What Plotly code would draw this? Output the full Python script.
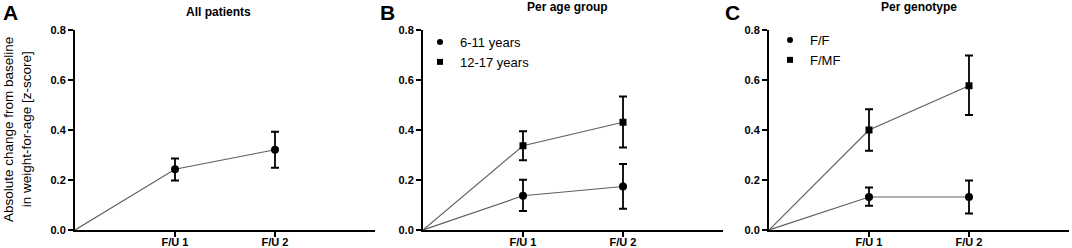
import plotly.graph_objects as go

# ---------------- data ----------------
timepoints = ["F/U 1", "F/U 2"]
baseline = 0.0

all_mean = [0.243, 0.321]
all_upper = [0.286, 0.393]
all_lower = [0.198, 0.249]

age_groups = ["6-11 years", "12-17 years"]
age_6_11_mean = [0.137, 0.174]
age_6_11_upper = [0.201, 0.264]
age_6_11_lower = [0.076, 0.085]
age_12_17_mean = [0.337, 0.431]
age_12_17_upper = [0.395, 0.534]
age_12_17_lower = [0.279, 0.330]

genotypes = ["F/F", "F/MF"]
ff_mean = [0.132, 0.132]
ff_upper = [0.170, 0.198]
ff_lower = [0.097, 0.066]
fmf_mean = [0.400, 0.577]
fmf_upper = [0.483, 0.698]
fmf_lower = [0.317, 0.460]

y_ticks = [0.0, 0.2, 0.4, 0.6, 0.8]
panel_titles = ["All patients", "Per age group", "Per genotype"]
panel_letters = ["A", "B", "C"]

# ---------------- layout helpers ----------------
W, H = 1072, 248
FONT = "Arial, Liberation Sans, sans-serif"


def px(x):
    return x / W


def py(y):
    return (H - y) / H


x_num = [1, 2]
marker_size = {"circle": 8, "square": 7}
fig = go.Figure()

panels = [
    ("x", "y", [(all_mean, all_upper, all_lower, "circle", None)], None),
    ("x2", "y2", [(age_6_11_mean, age_6_11_upper, age_6_11_lower, "circle", age_groups[0]),
                  (age_12_17_mean, age_12_17_upper, age_12_17_lower, "square", age_groups[1])], "legend"),
    ("x3", "y3", [(ff_mean, ff_upper, ff_lower, "circle", genotypes[0]),
                  (fmf_mean, fmf_upper, fmf_lower, "square", genotypes[1])], "legend2"),
]

for xa, ya, series, leg in panels:
    for mean, upper, lower, sym, name in series:
        fig.add_trace(go.Scatter(
            x=[0] + x_num, y=[baseline] + mean, mode="lines",
            line=dict(color="#606060", width=1.2), xaxis=xa, yaxis=ya,
            showlegend=False, hoverinfo="skip", cliponaxis=False))
        fig.add_trace(go.Scatter(
            x=x_num, y=mean, mode="markers",
            marker=dict(symbol=sym, size=marker_size[sym], color="black"),
            error_y=dict(type="data", symmetric=False,
                         array=[u - m for u, m in zip(upper, mean)],
                         arrayminus=[m - l for m, l in zip(mean, lower)],
                         color="black", thickness=1.8, width=4),
            xaxis=xa, yaxis=ya, showlegend=False, cliponaxis=False))
        if name is not None:
            fig.add_trace(go.Scatter(
                x=[None], y=[None], mode="markers", name=name,
                marker=dict(symbol=sym, size=6, color="black"),
                xaxis=xa, yaxis=ya, showlegend=True, legend=leg))

x_domains = [(75, 375), (423, 723), (769, 1069)]
ydom = [py(230), py(30)]

axis_common = dict(showline=True, linecolor="black", linewidth=2, ticks="outside",
                   ticklen=5, tickwidth=1.5, tickcolor="black", showgrid=False,
                   zeroline=False, automargin=False,
                   tickfont=dict(family=FONT, size=11, color="black", weight="bold"))

for i, (x0, x1) in enumerate(x_domains):
    sfx = "" if i == 0 else str(i + 1)
    fig.layout["xaxis" + sfx] = dict(
        domain=[px(x0), px(x1)], range=[0, 3], tickvals=x_num, ticktext=timepoints,
        anchor="y" + sfx, ticklabelstandoff=-4, **axis_common)
    fig.layout["yaxis" + sfx] = dict(
        domain=ydom, range=[0, 0.8], tickvals=y_ticks,
        ticktext=[f"{v:.1f}" for v in y_ticks], anchor="x" + sfx, **axis_common)

annotations = []
title_pos = [(218, 12), (567, 7), (919, 7)]
for t, (cx, cy) in zip(panel_titles, title_pos):
    annotations.append(dict(text=t, x=px(cx), y=py(cy), xref="paper", yref="paper",
                            showarrow=False, xanchor="center", yanchor="middle",
                            font=dict(family=FONT, size=12, color="black", weight="bold")))
letter_x = [10, 387, 732]
for t, cx in zip(panel_letters, letter_x):
    annotations.append(dict(text=t, x=px(cx), y=1.0, xref="paper", yref="paper",
                            showarrow=False, xanchor="center", yanchor="top",
                            borderpad=0,
                            font=dict(family=FONT, size=21, color="black", weight="bold")))
annotations.append(dict(text="Absolute change from baseline<br>in weight-for-age [z-score]",
                        x=px(17), y=py(130), xref="paper", yref="paper", textangle=-90,
                        showarrow=False, xanchor="center", yanchor="middle",
                        font=dict(family=FONT, size=13.5, color="black")))

legend_style = dict(font=dict(family=FONT, size=13, color="black"),
                    bgcolor="rgba(0,0,0,0)", xanchor="left", yanchor="top",
                    itemwidth=30, tracegroupgap=0)

fig.update_layout(
    template="none",
    width=W, height=H, margin=dict(l=0, r=0, t=0, b=0, autoexpand=False),
    paper_bgcolor="white", plot_bgcolor="white",
    annotations=annotations,
    legend=dict(x=px(420), y=py(27), **legend_style),
    legend2=dict(x=px(770), y=py(25), **legend_style),
)

fig.write_html("out.html", config={"displayModeBar": False},
               post_script="document.body.style.margin='0';")
